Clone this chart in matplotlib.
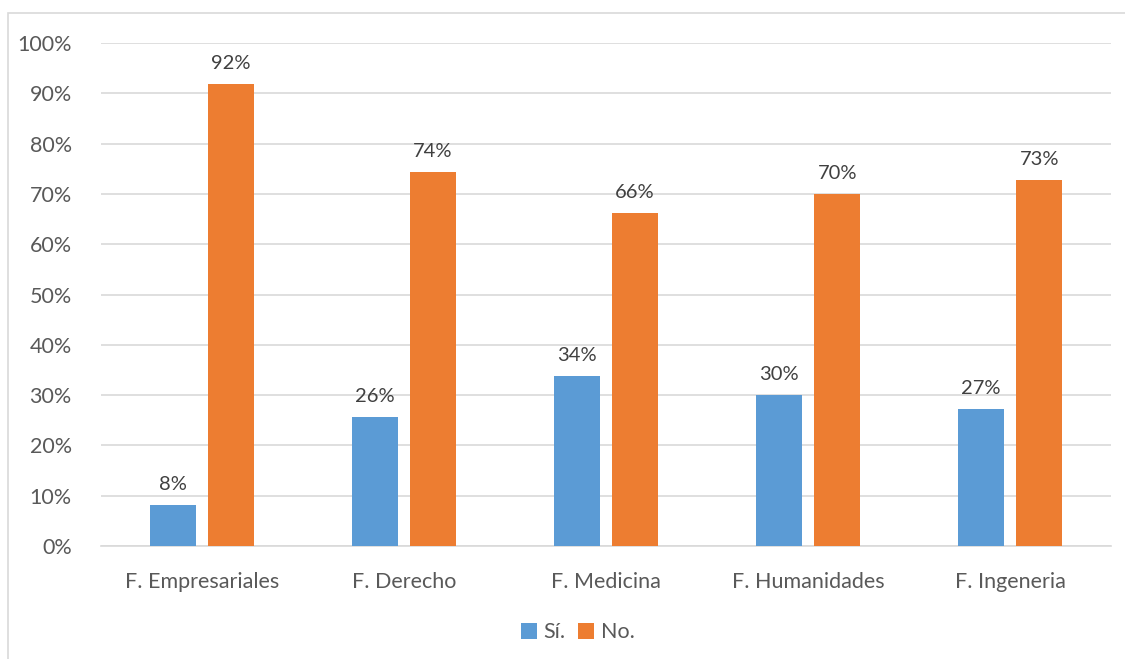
import matplotlib.pyplot as plt
import numpy as np
from matplotlib.patches import Rectangle

plt.rcParams['font.family'] = ['Lato', 'DejaVu Sans']

categorias = ['F. Empresariales', 'F. Derecho', 'F. Medicina', 'F. Humanidades', 'F. Ingeneria']
si = [0.082, 0.256, 0.338, 0.300, 0.272]
no = [0.918, 0.744, 0.662, 0.700, 0.728]
etiquetas_si = ['8%', '26%', '34%', '30%', '27%']
etiquetas_no = ['92%', '74%', '66%', '70%', '73%']

azul = '#5B9BD5'
naranja = '#ED7D31'
gris = '#595959'

fig = plt.figure(figsize=(11.25, 6.59), dpi=100)
ax = fig.add_axes([0.0898, 0.1715, 0.8978, 0.7632])

x = np.arange(len(categorias))
ancho = 0.228
b1 = ax.bar(x - 0.144, si, ancho, color=azul, label='Sí.', zorder=3)
b2 = ax.bar(x + 0.144, no, ancho, color=naranja, label='No.', zorder=3)

for rect, t in zip(b1, etiquetas_si):
    ax.text(rect.get_x() + rect.get_width() / 2, rect.get_height() + 0.024, t,
            ha='center', va='bottom', fontsize=14.5, color='#404040')
for rect, t in zip(b2, etiquetas_no):
    ax.text(rect.get_x() + rect.get_width() / 2, rect.get_height() + 0.024, t,
            ha='center', va='bottom', fontsize=14.5, color='#404040')

ax.set_xlim(-0.5, len(categorias) - 0.5)
ax.set_ylim(0, 1.0)
ax.set_yticks(np.arange(0, 1.01, 0.1))
ax.set_yticklabels([f'{int(round(v * 100))}%' for v in np.arange(0, 1.01, 0.1)])
ax.set_xticks(x)
ax.set_xticklabels(categorias)
ax.tick_params(axis='both', length=0, labelsize=15.5, colors=gris)
ax.tick_params(axis='x', pad=19)
ax.tick_params(axis='y', pad=21)
ax.grid(axis='y', color='#D9D9D9', linewidth=1.2, zorder=0)
for s in ['top', 'right', 'left']:
    ax.spines[s].set_visible(False)
ax.spines['bottom'].set_color('#D9D9D9')
ax.spines['bottom'].set_linewidth(1.2)

leg = ax.legend(loc='center', bbox_to_anchor=(0.472, -0.172), ncol=2, frameon=False,
                fontsize=15.5, handlelength=0.75, handleheight=0.75, handletextpad=0.3,
                columnspacing=0.6)
for t in leg.get_texts():
    t.set_color(gris)

fig.patches.append(Rectangle((8 / 1125, -0.05), 1.1, (659 - 13) / 659 + 0.05,
                             transform=fig.transFigure, fill=False,
                             edgecolor='#D9D9D9', linewidth=1.2))

fig.savefig('out.png', dpi=100)
